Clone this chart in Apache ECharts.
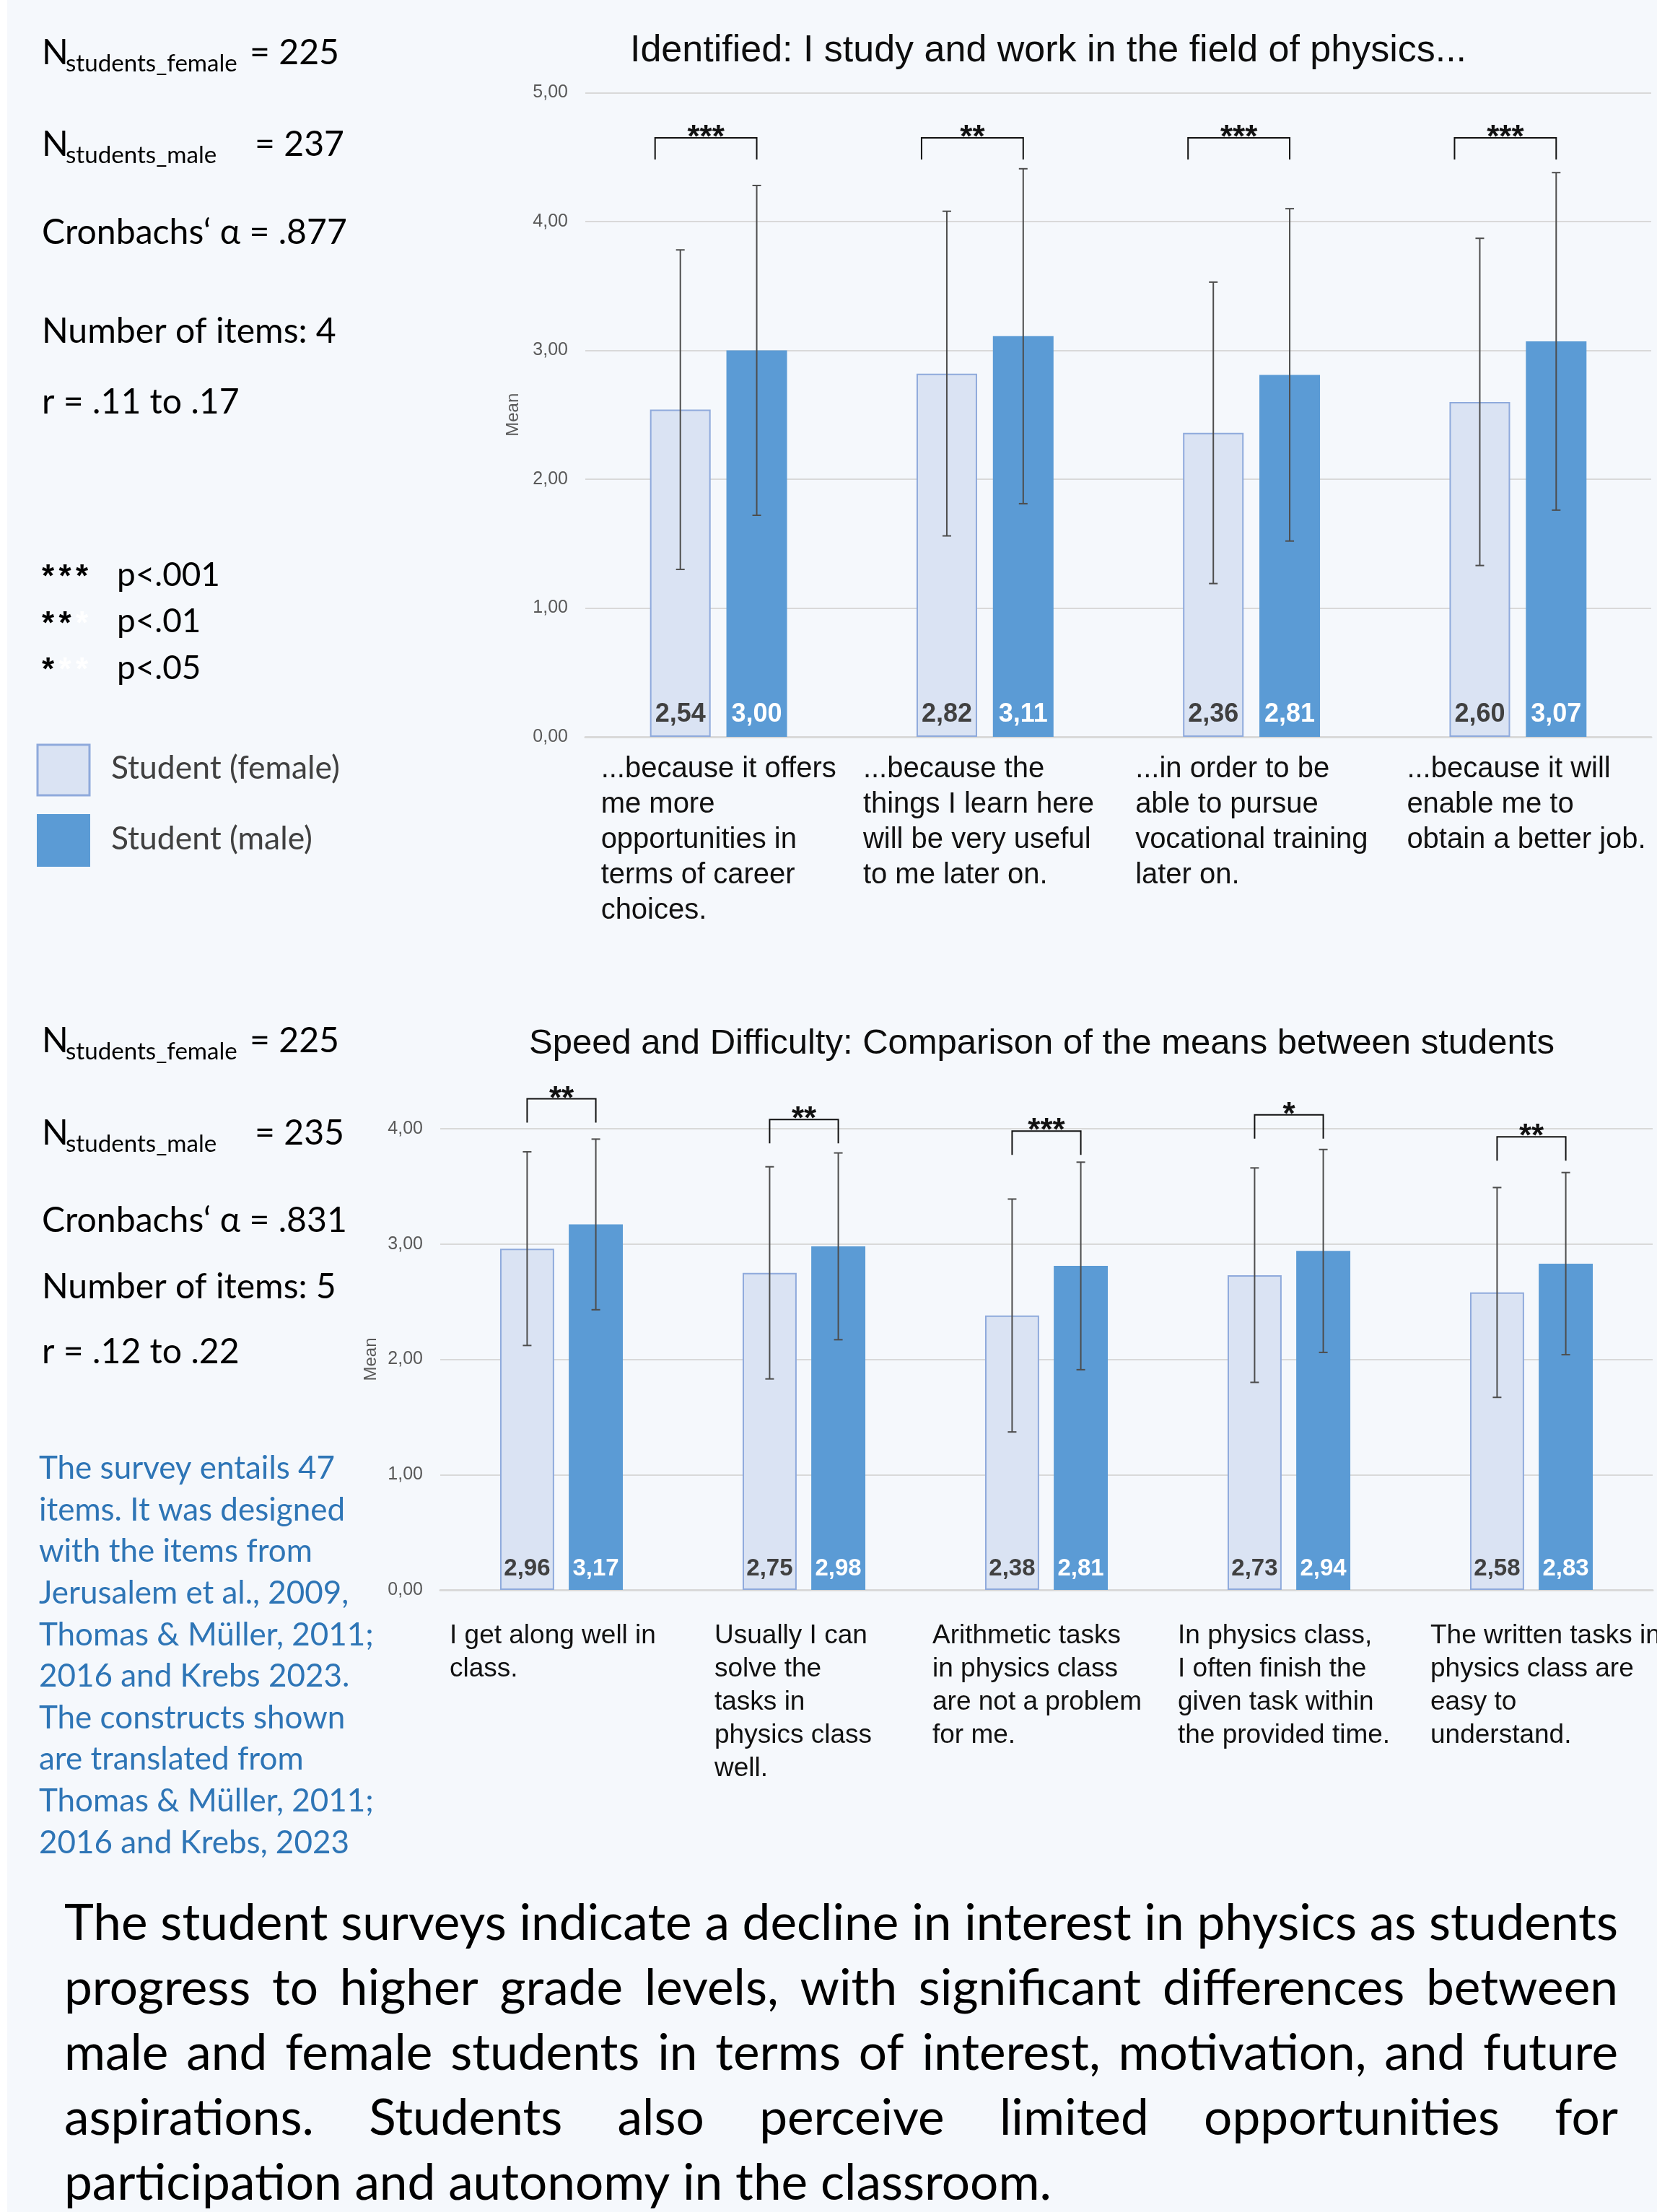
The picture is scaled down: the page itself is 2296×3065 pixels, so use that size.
<!DOCTYPE html>
<html>
<head>
<meta charset="utf-8">
<script src="https://cdn.jsdelivr.net/npm/echarts@6.0.0/dist/echarts.min.js"></script>
<style>
  html, body { margin: 0; padding: 0; background: #f5f8fc; }
  #chart { width: 2296px; height: 3065px; }
</style>
</head>
<body>
<div id="chart"></div>
<script>
// ---- top chart: "Identified" ----
const idCategories = [
  "...because it offers\nme more\nopportunities in\nterms of career\nchoices.",
  "...because the\nthings I learn here\nwill be very useful\nto me later on.",
  "...in order to be\nable to pursue\nvocational training\nlater on.",
  "...because it will\nenable me to\nobtain a better job."
];
const idFemale = [2.54, 2.82, 2.36, 2.60];
const idMale = [3.00, 3.11, 2.81, 3.07];
const idFemaleSd = [1.24, 1.26, 1.17, 1.27];
const idMaleSd = [1.28, 1.30, 1.29, 1.31];
const idStars = ["***", "**", "***", "***"];
const idBracketTop = [4.65, 4.65, 4.65, 4.65];
const idTicks = [0, 1, 2, 3, 4, 5];

// ---- bottom chart: "Speed and Difficulty" ----
const spCategories = [
  "I get along well in\nclass.",
  "Usually I can\nsolve the\ntasks in\nphysics class\nwell.",
  "Arithmetic tasks\nin physics class\nare not a problem\nfor me.",
  "In physics class,\nI often finish the\ngiven task within\nthe provided time.",
  "The written tasks in\nphysics class are\neasy to\nunderstand."
];
const spFemale = [2.96, 2.75, 2.38, 2.73, 2.58];
const spMale = [3.17, 2.98, 2.81, 2.94, 2.83];
const spFemaleSd = [0.84, 0.92, 1.01, 0.93, 0.91];
const spMaleSd = [0.74, 0.81, 0.90, 0.88, 0.79];
const spStars = ["**", "**", "***", "*", "**"];
const spBracketTop = [4.26, 4.08, 3.98, 4.12, 3.93];
const spTicks = [0, 1, 2, 3, 4];

// ---- side texts ----
const idStats = { female: "225", male: "237", alpha: ".877", items: "4", r: ".11 to .17" };
const spStats = { female: "225", male: "235", alpha: ".831", items: "5", r: ".12 to .22" };
const pLevels = [[3, "p<.001"], [2, "p<.01"], [1, "p<.05"]];
const legendNames = ["Student (female)", "Student (male)"];
const noteLines = [
  "The survey entails 47",
  "items. It was designed",
  "with the items from",
  "Jerusalem et al., 2009,",
  "Thomas & Müller, 2011;",
  "2016 and Krebs 2023.",
  "The constructs shown",
  "are translated from",
  "Thomas & Müller, 2011;",
  "2016 and Krebs, 2023"
];
const summaryLines = [
  "The student surveys indicate a decline in interest in physics as students",
  "progress to higher grade levels, with significant differences between",
  "male and female students in terms of interest, motivation, and future",
  "aspirations. Students also perceive limited opportunities for",
  "participation and autonomy in the classroom."
];

const ARIAL = "'Liberation Sans', Arial, sans-serif";
const SOFT = "Lato, 'Open Sans', sans-serif";
const FEMALE_FILL = "#dae3f3";
const FEMALE_BORDER = "#8faadc";
const MALE_FILL = "#5b9bd5";

const ctx = document.createElement("canvas").getContext("2d");
function fitSize(text, family, weight, width) {
  ctx.font = `${weight} 100px ${family}`;
  return 100 * width / ctx.measureText(text).width;
}
function measure(text, size, family, weight) {
  ctx.font = `${weight} ${size}px ${family}`;
  return ctx.measureText(text).width;
}
const comma = (v) => v.toFixed(2).replace(".", ",");

function text(x, y, str, size, family, color, weight, align) {
  return {
    type: "text", x, y, silent: true,
    style: {
      text: str, fill: color || "#000", align: align || "left", verticalAlign: "middle",
      font: `${weight || "normal"} ${size}px ${family}`
    }
  };
}

// per chart styling: bar width/gap as share of the band, bracket look, label nudges
const layout = [
  { barPct: 0.2275, gapPct: 0.26, bracketShift: -35, leg: 30, labelFont: 36, labelShift: [7, 1, 9, 16] },
  { barPct: 0.223, gapPct: 0.27, bracketShift: 0, leg: 33, labelFont: 33, labelShift: [5, 36, 2, 6, 20] }
];

function errorSeries(g, means, sds, side) {
  const L = layout[g];
  return {
    type: "custom", xAxisIndex: g, yAxisIndex: g, z: 5, silent: true,
    data: means.map((m, i) => [i, m - sds[i], m + sds[i]]),
    renderItem(params, api) {
      const band = api.size([1, 0])[0];
      const bw = band * L.barPct;
      const off = side * (bw + bw * L.gapPct) / 2;
      const hi = api.coord([api.value(0), api.value(2)]);
      const lo = api.coord([api.value(0), api.value(1)]);
      const x = hi[0] + off;
      const st = { stroke: "#4d4d4d", lineWidth: 2 };
      return {
        type: "group",
        children: [
          { type: "line", shape: { x1: x, y1: hi[1], x2: x, y2: lo[1] }, style: st },
          { type: "line", shape: { x1: x - 6, y1: hi[1], x2: x + 6, y2: hi[1] }, style: st },
          { type: "line", shape: { x1: x - 6, y1: lo[1], x2: x + 6, y2: lo[1] }, style: st }
        ]
      };
    }
  };
}

function bracketSeries(g, tops, stars) {
  const L = layout[g];
  return {
    type: "custom", xAxisIndex: g, yAxisIndex: g, z: 6, silent: true,
    data: tops.map((t, i) => [i, t]),
    renderItem(params, api) {
      const band = api.size([1, 0])[0];
      const bw = band * L.barPct;
      const off = (bw + bw * L.gapPct) / 2;
      const p = api.coord([api.value(0), api.value(1)]);
      const x1 = p[0] - off + L.bracketShift;
      const x2 = p[0] + off;
      const y = p[1];
      const st = { stroke: "#111", lineWidth: 2, fill: null };
      return {
        type: "group",
        children: [
          { type: "polyline", shape: { points: [[x1, y + L.leg], [x1, y], [x2, y], [x2, y + L.leg]] }, style: st },
          {
            type: "text",
            style: {
              text: stars[params.dataIndex], x: (x1 + x2) / 2, y: y + 1,
              align: "center", verticalAlign: "middle", fill: "#111",
              font: `bold 44px ${ARIAL}`
            }
          }
        ]
      };
    }
  };
}

function barSeries(g, name, values, female) {
  const L = layout[g];
  return {
    type: "bar", name, xAxisIndex: g, yAxisIndex: g, data: values,
    barWidth: (L.barPct * 100) + "%", barGap: (L.gapPct * 100) + "%",
    itemStyle: female
      ? { color: FEMALE_FILL, borderColor: FEMALE_BORDER, borderWidth: 2 }
      : { color: MALE_FILL },
    label: {
      show: true, position: "insideBottom", distance: 13,
      formatter: (p) => comma(p.value),
      color: female ? "#404040" : "#ffffff",
      fontFamily: ARIAL, fontWeight: "bold", fontSize: L.labelFont
    }
  };
}

function catLabels(g, fontSize, lineHeight, width, margin) {
  const rich = {};
  layout[g].labelShift.forEach((s, i) => {
    rich["t" + i] = { align: "left", fontFamily: ARIAL, fontSize, lineHeight, color: "#111", padding: [0, 0, 0, s] };
  });
  return {
    interval: 0, margin, width, align: "center", verticalAlign: "top",
    formatter: (v, i) => v.split("\n").map((l) => `{t${i}|${l}}`).join("\n"),
    rich
  };
}

function valueAxis(g, ticks, nameGap) {
  return {
    type: "value", gridIndex: g, min: ticks[0], max: ticks[ticks.length - 1], interval: 1,
    name: "Mean", nameLocation: "middle", nameGap, nameRotate: 90,
    nameTextStyle: { fontFamily: ARIAL, fontSize: 24, color: "#595959" },
    axisLine: { show: false }, axisTick: { show: false },
    axisLabel: { fontFamily: ARIAL, fontSize: 25, color: "#595959", margin: 24, formatter: comma },
    splitLine: { lineStyle: { color: "#d9d9d9", width: 2 } }
  };
}

function catAxis(g, cats, labels) {
  return {
    type: "category", gridIndex: g, data: cats,
    axisLine: { show: true, lineStyle: { color: "#d9d9d9", width: 3 } },
    axisTick: { show: false },
    axisLabel: labels
  };
}

// ---- side graphics ----
const graphics = [
  { type: "rect", shape: { x: 0, y: 0, width: 10, height: 3065 }, style: { fill: "#ffffff" }, silent: true }
];

const statSize = fitSize("Cronbachs‘ α = .877", SOFT, "normal", 423);
const subSize = fitSize("students_female", SOFT, "normal", 238);
function statBlock(s, rows) {
  const [r1, r2, r3, r4, r5] = rows;
  graphics.push(
    text(58, r1, "N", statSize, SOFT),
    text(91, r1 + 14 + subSize * 0.05, "students_female", subSize, SOFT),
    text(346, r1, "= " + s.female, statSize, SOFT),
    text(58, r2, "N", statSize, SOFT),
    text(91, r2 + 14 + subSize * 0.05, "students_male", subSize, SOFT),
    text(353, r2, "= " + s.male, statSize, SOFT),
    text(58, r3, "Cronbachs‘ α = " + s.alpha, statSize, SOFT),
    text(58, r4, "Number of items: " + s.items, statSize, SOFT),
    text(58, r5, "r = " + s.r, statSize, SOFT)
  );
}
statBlock(idStats, [73, 200, 322, 459, 557]);
statBlock(spStats, [1442, 1570, 1691, 1783, 1873]);

// significance key: black stars padded with white ones to three
const pSize = fitSize("p<.001", SOFT, "normal", 143);
const starTok = { fontFamily: ARIAL, fontWeight: "bold", fontSize: 44, width: 23.5, align: "left" };
pLevels.forEach(([n, label], i) => {
  const y = 797 + i * 64.5;
  const str = "{k|*}".repeat(n) + "{w|*}".repeat(3 - n);
  graphics.push({
    type: "text", x: 58, y: y + 4, silent: true,
    style: {
      text: str, verticalAlign: "middle",
      rich: { k: Object.assign({ fill: "#000" }, starTok), w: Object.assign({ fill: "#ffffff" }, starTok) }
    }
  });
  graphics.push(text(162, y, label, pSize, SOFT));
});

const legSize = fitSize(legendNames[0], SOFT, "normal", 317);
graphics.push(
  { type: "rect", shape: { x: 52, y: 1032, width: 72, height: 70 }, style: { fill: FEMALE_FILL, stroke: FEMALE_BORDER, lineWidth: 3 }, silent: true },
  { type: "rect", shape: { x: 51, y: 1128, width: 74, height: 73 }, style: { fill: MALE_FILL }, silent: true },
  text(154, 1065, legendNames[0], legSize, SOFT, "#404040"),
  text(154, 1163, legendNames[1], legSize, SOFT, "#404040")
);

const noteSize = fitSize("Thomas & Müller, 2011;", SOFT, "normal", 464);
noteLines.forEach((l, i) => graphics.push(text(54, 2035 + i * 57.6, l, noteSize, SOFT, "#2e75b6")));

// justified summary paragraph
const sumSize = fitSize(summaryLines[4], SOFT, "normal", 1368);
const sumX0 = 89, sumX1 = 2242;
summaryLines.forEach((line, i) => {
  const y = 2666 + i * 90;
  if (i === summaryLines.length - 1) {
    graphics.push(text(sumX0, y, line, sumSize, SOFT));
    return;
  }
  const words = line.split(" ");
  const widths = words.map((w) => measure(w, sumSize, SOFT, "normal"));
  const gap = (sumX1 - sumX0 - widths.reduce((a, b) => a + b, 0)) / (words.length - 1);
  let x = sumX0;
  words.forEach((w, j) => {
    graphics.push(text(x, y, w, sumSize, SOFT));
    x += widths[j] + gap;
  });
});

const chart = echarts.init(document.getElementById("chart"), null, { renderer: "canvas" });
chart.setOption({
  backgroundColor: "#f5f8fc",
  animation: false,
  title: [
    { text: "Identified: I study and work in the field of physics...", left: 873, top: 45, padding: 0,
      textStyle: { fontFamily: ARIAL, fontSize: 52, fontWeight: "normal", color: "#0d0d0d" } },
    { text: "Speed and Difficulty: Comparison of the means between students", left: 733, top: 1422, padding: 0,
      textStyle: { fontFamily: ARIAL, fontSize: 49, fontWeight: "normal", color: "#0d0d0d" } }
  ],
  grid: [
    { left: 811, top: 128.5, width: 1477, height: 892.5, containLabel: false, outerBoundsMode: "none" },
    { left: 610, top: 1564, width: 1680, height: 639, containLabel: false, outerBoundsMode: "none" }
  ],
  xAxis: [
    catAxis(0, idCategories, catLabels(0, 40, 49, 340, 20)),
    catAxis(1, spCategories, catLabels(1, 37, 46, 320, 41))
  ],
  yAxis: [valueAxis(0, idTicks, 88), valueAxis(1, spTicks, 81)],
  series: [
    barSeries(0, legendNames[0], idFemale, true),
    barSeries(0, legendNames[1], idMale, false),
    errorSeries(0, idFemale, idFemaleSd, -1),
    errorSeries(0, idMale, idMaleSd, 1),
    bracketSeries(0, idBracketTop, idStars),
    barSeries(1, legendNames[0], spFemale, true),
    barSeries(1, legendNames[1], spMale, false),
    errorSeries(1, spFemale, spFemaleSd, -1),
    errorSeries(1, spMale, spMaleSd, 1),
    bracketSeries(1, spBracketTop, spStars)
  ],
  graphic: { elements: graphics }
});
</script>
</body>
</html>
